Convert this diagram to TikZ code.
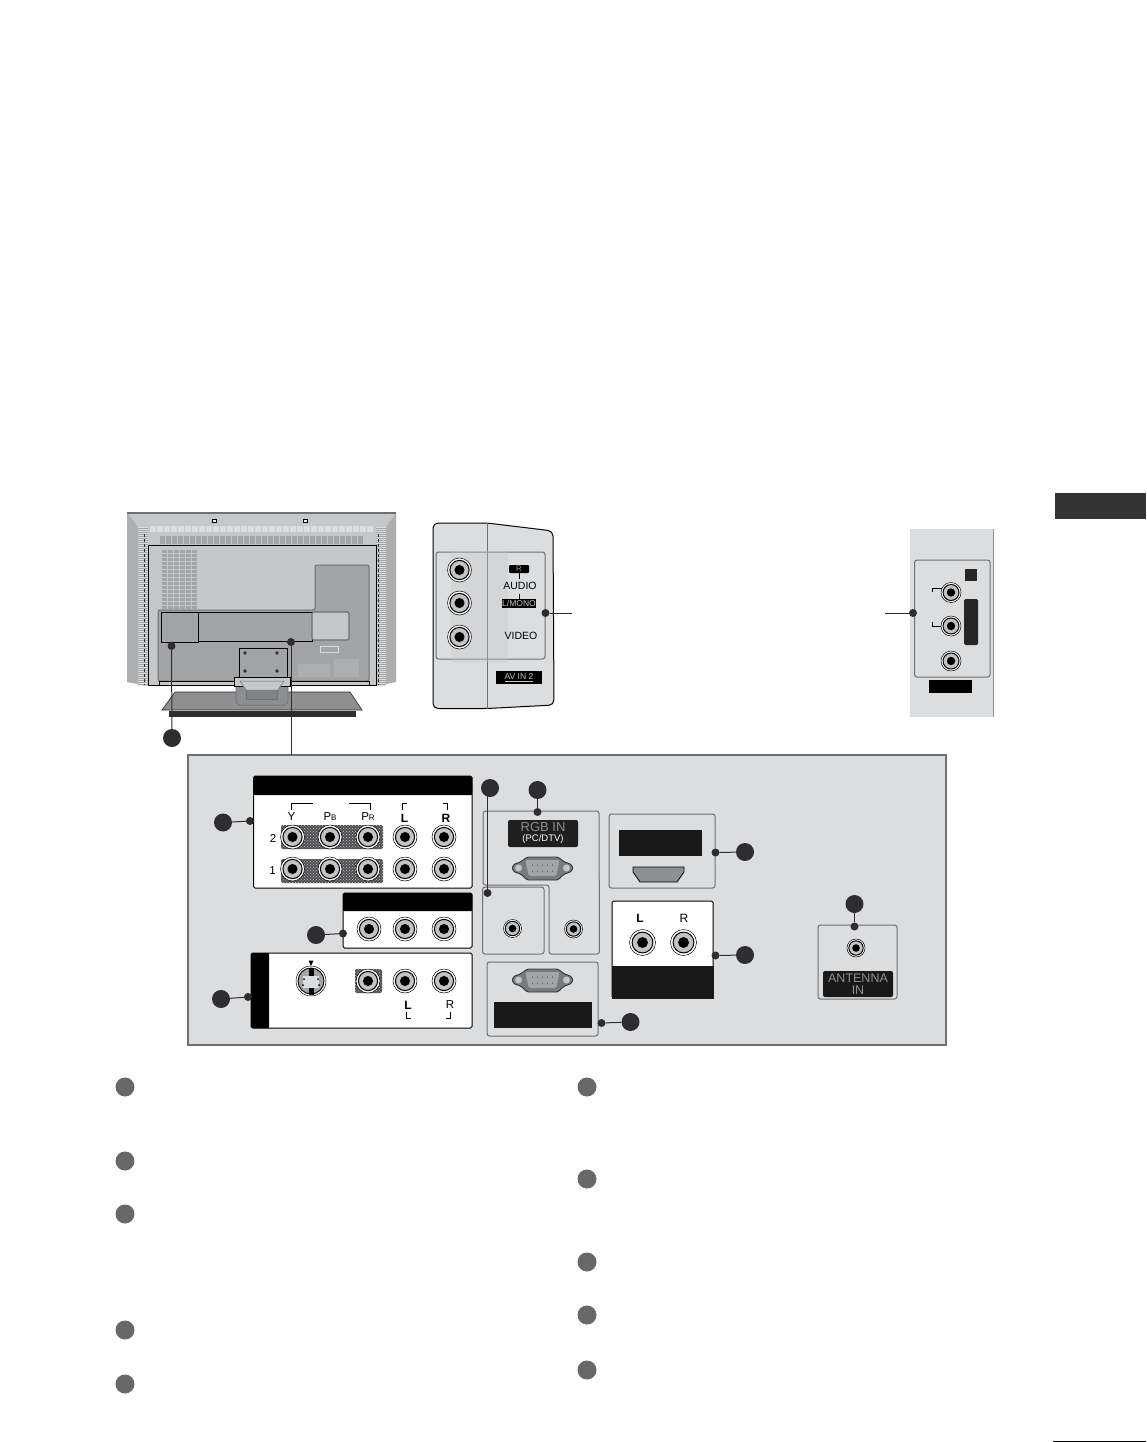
\documentclass[tikz,border=0pt]{standalone}
\usepackage{fontspec}
\setmainfont{Liberation Sans}
\usetikzlibrary{patterns}
\definecolor{tvInk}{HTML}{2E2E30}
\definecolor{tvItem}{HTML}{68686A}
\definecolor{tvEdge}{HTML}{6E6F71}
\definecolor{tvPanel}{HTML}{DCDDDF}
\definecolor{tvBody}{HTML}{C6C7C9}
\definecolor{tvDark}{HTML}{A3A4A6}
\definecolor{tvStand}{HTML}{8E8F91}
\definecolor{tvTab}{HTML}{333333}
\definecolor{tvRing}{HTML}{C2C3C5}
\definecolor{tvHatch}{HTML}{505052}
\tikzset{
  tvcall/.style={circle, fill=tvInk, minimum size=18pt, inner sep=0pt},
  tvdot/.style={circle, fill=tvInk, minimum size=8pt, inner sep=0pt},
  tvitem/.style={circle, fill=tvItem, minimum size=19pt, inner sep=0pt},
  tvlead/.style={draw=tvInk, line width=1pt},
  tvbox/.style={draw=tvEdge, rounded corners=2.5pt, line width=1pt},
  tvwhite/.style={draw=black, fill=white, rounded corners=1.5pt, line width=1pt},
  tvlabel/.style={font=\fontsize{11.5}{11.5}\selectfont, inner sep=0pt},
  tvthick/.style={font=\fontsize{12}{12}\selectfont\bfseries, inner sep=0pt},
  tvbrack/.style={draw=black, line width=0.7pt},
  tvgrid/.style={fill=tvHatch, rounded corners=2pt, postaction={pattern=crosshatch dots, pattern color=tvRing}},
}
\newcommand{\tvjack}[3]{%
  \filldraw[draw=black, fill=white, line width=0.5pt] (#1,#2) circle (#3);
  \filldraw[draw=black, fill=tvRing, line width=1pt] (#1,#2) circle ({0.8*#3});
  \fill[black] (#1,#2) circle ({0.42*#3});
}
\newcommand{\tvvga}[2]{%
  \filldraw[draw=black!80, fill=tvStand!85!black, line width=0.9pt, rounded corners=2pt]
    (#1-30,#2-3) -- (#1-20,#2-7) -- (#1-16,#2-11) -- (#1+16,#2-11) -- (#1+20,#2-7)
    -- (#1+30,#2-3) -- (#1+30,#2+3) -- (#1+20,#2+7) -- (#1+16,#2+12) -- (#1-16,#2+12)
    -- (#1-20,#2+7) -- (#1-30,#2+3) -- cycle;
  \fill[tvRing] (#1-24,#2) circle (3.5);
  \fill[tvRing] (#1+24,#2) circle (3.5);
  \fill[tvDark, rounded corners=2pt] (#1-17,#2-8) -- (#1+17,#2-8) -- (#1+14,#2+8) -- (#1-14,#2+8) -- cycle;
  \foreach \d in {-10,-5,...,10}{%
    \fill[tvInk] (#1+\d,#2-3) circle (0.5);
    \fill[tvInk] (#1+\d,#2+3) circle (0.5);
  }
}

\begin{document}
\begin{tikzpicture}[x=1pt, y=-1pt]
\useasboundingbox (0,0) rectangle (1146,1442);
\fill[white] (0,0) rectangle (1146,1442);

% Section tab and page rule ------------------------------------------------
\fill[tvTab] (1055,493) rectangle (1146,519);
\draw[black, line width=1pt] (1053,1441) -- (1146,1441);

% Television back ----------------------------------------------------------
\fill[tvBody] (127,513) -- (396,513) -- (396,682) -- (376,685) -- (148,685) -- (127,682) -- cycle;
\fill[tvDark!70!tvBody] (127,513) -- (138,527) -- (138,684) -- (127,682) -- cycle;
\fill[tvDark!70!tvBody] (396,513) -- (386,527) -- (386,684) -- (396,682) -- cycle;
\draw[tvEdge, line width=1.4pt] (127,513) -- (396,513);
\fill[tvDark] (138,527) rectangle (148,685);
\fill[tvDark] (376,527) rectangle (386,685);
\foreach \y in {527,529,...,685}{%
  \draw[tvPanel, line width=0.5pt] (138,\y) -- (148,\y);
  \draw[tvPanel, line width=0.5pt] (376,\y) -- (386,\y);
}
\draw[tvInk, line width=0.8pt, densely dashed] (144,534) -- (144,685);
\draw[tvInk, line width=0.8pt, densely dashed] (378,534) -- (378,685);
\foreach \x in {150,157,...,370}{%
  \fill[tvPanel] (\x,526) rectangle ++(6,6);
}
\foreach \x in {160,166,...,358}{%
  \fill[tvDark] (\x,536) rectangle ++(5,8);
}
\filldraw[draw=black, fill=tvBody, line width=0.9pt] (148.5,545) rectangle (376,685);
\foreach \y in {550,554,...,606}{%
  \foreach \x in {162,168,...,192}{%
    \fill[tvDark] (\x,\y) rectangle ++(5,3);
  }
}
\filldraw[draw=tvEdge, fill=tvDark, rounded corners=2pt, line width=1pt]
  (315,565) -- (369,565) -- (369,681) -- (158,681) -- (158,610) -- (315,610) -- cycle;
\filldraw[draw=black, fill=tvDark, line width=0.9pt] (161,612) rectangle (198,642);
\filldraw[draw=black, fill=tvDark, line width=0.9pt] (198,612) rectangle (312,641);
\filldraw[draw=tvEdge, fill=tvBody, rounded corners=1.5pt, line width=1.2pt] (312,612) rectangle (349,640);
\filldraw[draw=tvPanel, fill=tvDark, line width=0.8pt] (320,646) rectangle (338,652);
\fill[tvDark!70!tvBody] (298,664) rectangle (330,677);
\fill[tvDark!70!tvBody] (334,659) rectangle (359,677);
\filldraw[draw=black, fill=tvBody, line width=0.8pt] (159,681) rectangle (369,685);
\filldraw[draw=black, fill=tvDark, line width=0.9pt] (239,648) rectangle (287,680);
\foreach \x/\y in {245/653, 277/653, 245/671, 277/671}{%
  \fill[tvInk] (\x,\y) circle (1.8);
}
\foreach \x in {212,303}{%
  \filldraw[draw=black, fill=white, line width=0.8pt] (\x,519.5) rectangle ++(4,3);
}
% Stand
\filldraw[draw=tvInk, fill=tvStand, line width=0.6pt] (175,692) -- (350,692) -- (362,710) -- (162,710) -- cycle;
\fill[tvInk] (169,711) rectangle (356,717);
\filldraw[draw=tvEdge, fill=tvStand, rounded corners=4pt, line width=0.7pt] (236,684) -- (288,684) -- (288,705) -- (236,705) -- cycle;
\filldraw[draw=tvEdge, fill=tvDark!80!black, line width=0.5pt] (246,689) rectangle (277,699);
\filldraw[draw=black, fill=tvBody, line width=0.7pt] (234.5,677) rectangle (290,686);
\filldraw[draw=tvEdge, fill=tvBody, line width=0.5pt] (240,681) -- (284,681) -- (278,690) -- (246,690) -- cycle;

\node[tvdot] (tvLeft) at (171.5,646) {};
\node[tvdot] (tvMid) at (291,642) {};
\node[tvcall] (cTv) at (172,738) {};
\draw[tvlead] (tvLeft) -- (cTv);

% Side input, large --------------------------------------------------------
\filldraw[draw=black, fill=tvPanel, line width=1pt, rounded corners=5pt]
  (433,523) -- (487,523) -- (553,531) -- (554,705) -- (487,708.5) -- (433,708.5) -- cycle;
\draw[tvEdge, line width=1pt] (487,523) -- (487,708.5);
\draw[tvbox] (436,552) rectangle (545,659);
\fill[tvBody, opacity=0.35] (451,551) rectangle (508,663);
\foreach \y in {570,603,637}{%
  \tvjack{459.5}{\y}{12}
}
\fill[black, rounded corners=1pt] (509,565) rectangle (529,573);
\draw[black, line width=0.5pt] (519,573) -- (519,579);
\draw[black, line width=0.5pt] (519,594) -- (519,599);
\node[tvlabel, font=\fontsize{8}{8}\selectfont, text=tvStand] (lblAudioR) at (519,569) {R};
\node[tvlabel, font=\fontsize{10.5}{10.5}\selectfont] (lblAudio) at (520,586) {AUDIO};
\fill[black] (502,599) rectangle (536,608);
\node[tvlabel, font=\fontsize{8.5}{8.5}\selectfont, text=tvRing] (lblMono) at (519,603.5) {L/MONO};
\node[tvlabel, font=\fontsize{10.5}{10.5}\selectfont] (lblVideo) at (521,636) {VIDEO};
\fill[black] (496,671) rectangle (542,684);
\node[tvlabel, font=\fontsize{8.5}{8.5}\selectfont, text=tvRing] (lblAvTwo) at (519,677.5) {\underline{AV IN 2}};
\node[tvdot] (sideA) at (545.5,613) {};
\coordinate (sideAend) at (572,613);
\draw[tvlead] (sideA) -- (sideAend);

% Side input, small --------------------------------------------------------
\fill[tvPanel] (909.5,529) rectangle (993,717);
\draw[tvStand, line width=1pt] (993,529) -- (993,717);
\draw[tvbox] (914.5,560) rectangle (990,677);
\fill[black!85] (965,569) rectangle (977,581);
\fill[black!85, rounded corners=1.5pt] (964,599) rectangle (978,645);
\foreach \y in {592.5,626,661}{%
  \tvjack{951}{\y}{10}
}
\draw[tvbrack] (932,592) -- (932,588) -- (942,588);
\draw[tvbrack] (932,622) -- (932,626.5) -- (941,626.5);
\fill[black] (928.5,680) rectangle (972,693);
\node[tvdot] (sideB) at (913,613) {};
\coordinate (sideBend) at (885,613);
\draw[tvlead] (sideB) -- (sideBend);

% Connection panel ---------------------------------------------------------
\filldraw[draw=tvEdge, fill=tvPanel, line width=1.2pt] (188,755) rectangle (946,1045);
\coordinate (panelTop) at (291,755);
\draw[tvlead] (tvMid) -- (panelTop);

% Component box
\filldraw[tvwhite] (253.5,776) rectangle (472,888);
\fill[black, rounded corners=1.5pt] (253.5,776) rectangle (472,795);
\fill[black] (253.5,785) rectangle (472,795);
\foreach \y in {825,859}{%
  \path[tvgrid] (281,\y) rectangle ++(102,24);
}
\foreach \y in {837,869}{%
  \foreach \x in {292.5,330,368,405,444}{%
    \tvjack{\x}{\y}{12}
  }
}
\draw[tvbrack] (291,810) -- (291,803) -- (313,803);
\draw[tvbrack] (349,803) -- (370,803) -- (370,810);
\draw[tvbrack] (402,810) -- (402,803) -- (407,803);
\draw[tvbrack] (443,803) -- (447,803) -- (447,810);
\node[tvlabel] (lblY) at (291.5,817) {Y};
\node[tvlabel] (lblPb) at (330,817) {P{\fontsize{8}{8}\selectfont B}};
\node[tvlabel] (lblPr) at (368,817) {P{\fontsize{8}{8}\selectfont R}};
\node[tvthick] (lblL) at (404.5,818) {L};
\node[tvthick] (lblR) at (446,818) {R};
\node[tvlabel] (lblTwo) at (273,838) {2};
\node[tvlabel] (lblOne) at (272.5,871) {1};
\node[tvdot] (dCompo) at (250,821) {};
\node[tvcall] (cCompo) at (223,822.5) {};
\draw[tvlead] (cCompo) -- (dCompo);

% Video box
\filldraw[tvwhite] (343,893) rectangle (472,948);
\fill[black, rounded corners=1.5pt] (343,893) rectangle (472,911);
\fill[black] (343,902) rectangle (472,911);
\foreach \x in {369,405,444}{%
  \tvjack{\x}{929}{12}
}
\node[tvdot] (dVideo) at (343,933.5) {};
\node[tvcall] (cVideo) at (316,935) {};
\draw[tvlead] (cVideo) -- (dVideo);

% S-video box
\filldraw[tvwhite] (251,953) rectangle (472,1028);
\fill[black, rounded corners=1.5pt] (251,953) rectangle (269,1028);
\fill[black] (260,953) rectangle (269,1028);
\filldraw[draw=black, fill=white, line width=0.5pt] (311,981) circle (15);
\filldraw[draw=black, fill=tvDark, line width=0.9pt] (311,981) circle (13);
\fill[tvPanel] (303,976) rectangle (319,988);
\fill[black] (308.5,968) rectangle (313.5,976);
\fill[black] (308.5,988) rectangle (313.5,995);
\foreach \x/\y in {304/979, 318/979, 303/985, 319/985}{%
  \fill[black] (\x,\y) circle (1);
}
\fill[black] (308.5,960.5) -- (313.5,960.5) -- (311,966) -- cycle;
\path[tvgrid] (355,969) rectangle (382,993);
\foreach \x in {368,405,444}{%
  \tvjack{\x}{981}{12}
}
\node[tvthick] (lblLb) at (408,1005) {L};
\node[tvlabel] (lblRb) at (450,1005) {R};
\draw[tvbrack] (406,1012) -- (406,1018) -- (411,1018);
\draw[tvbrack] (446,1018) -- (450,1018) -- (450,1012);
\node[tvdot] (dSvid) at (248,997) {};
\node[tvcall] (cSvid) at (221,999) {};
\draw[tvlead] (cSvid) -- (dSvid);

% RGB box
\draw[tvbox] (483,811) -- (599,811) -- (599.5,954) -- (549,954) -- (549,885) -- (483,885) -- cycle;
\draw[tvbox] (482.5,887) rectangle (544,954);
\fill[black!88, rounded corners=2pt] (508,820) rectangle (578,847);
\node[tvlabel, font=\fontsize{13}{13}\selectfont, text=tvStand] (lblRgb) at (543,827.5) {RGB IN};
\node[tvlabel, font=\fontsize{9.5}{9.5}\selectfont, text=white] (lblPc) at (543,839.5) {(PC/DTV)};
\tvvga{542.5}{868}
\tvjack{512.5}{928.5}{9}
\tvjack{573.5}{929}{9}
\node[tvcall] (cRgb) at (537.5,790) {};
\node[tvdot] (dRgb) at (537.5,812) {};
\draw[tvlead] (cRgb) -- (dRgb);
\node[tvcall] (cAudio) at (490,788) {};
\node[tvdot] (dAudio) at (487.5,893) {};
\draw[tvlead] (dAudio) -- (dAudio |- cAudio);

% PC box
\draw[tvbox] (487,962) rectangle (598,1036);
\tvvga{542.5}{980}
\fill[black!90] (494,1002) rectangle (592,1028);
\node[tvdot] (dPc) at (601.5,1023) {};
\node[tvcall] (cPc) at (630.5,1022) {};
\draw[tvlead] (dPc) -- (cPc);

% HDMI box
\draw[tvbox] (609,814) rectangle (715,888);
\fill[black!90] (619,830) rectangle (702,856);
\filldraw[draw=black, fill=tvStand, line width=0.8pt]
  (633,867) -- (684,867) -- (684,872) -- (677,882) -- (640,882) -- (633,872) -- cycle;
\node[tvdot] (dHdmi) at (715.5,852.5) {};
\node[tvcall] (cHdmi) at (745,852) {};
\draw[tvlead] (dHdmi) -- (cHdmi);

% Audio out box
\filldraw[tvwhite] (612,901) rectangle (713,998);
\fill[black!90] (611.5,966) rectangle (713.5,998.5);
\tvjack{642.5}{942.5}{13}
\tvjack{683.5}{942.5}{13}
\node[tvthick] (lblLc) at (640,918) {L};
\node[tvthick, font=\fontsize{12}{12}\selectfont] (lblRc) at (684,918) {R};
\node[tvdot] (dOut) at (715.5,955.5) {};
\node[tvcall] (cOut) at (745,955) {};
\draw[tvlead] (dOut) -- (cOut);

% Antenna box
\draw[tvbox] (818,925) rectangle (897,999);
\tvjack{856}{948}{9}
\fill[black!90, rounded corners=2pt] (823,971) rectangle (893,997);
\node[tvlabel, font=\fontsize{12.5}{12.5}\selectfont, text=tvStand] (lblAnt) at (858,978) {ANTENNA};
\node[tvlabel, font=\fontsize{12.5}{12.5}\selectfont, text=tvStand] (lblIn) at (858,990) {IN};
\node[tvcall] (cAnt) at (854.5,904) {};
\node[tvdot] (dAnt) at (854.5,926.5) {};
\draw[tvlead] (cAnt) -- (dAnt);

% List markers -------------------------------------------------------------
\foreach \y [count=\i] in {1087,1161,1214,1330,1384}{%
  \node[tvitem] (itemL\i) at (125,\y) {};
}
\foreach \y [count=\i] in {1087,1179,1262,1315,1370}{%
  \node[tvitem] (itemR\i) at (587,\y) {};
}

\end{tikzpicture}
\end{document}
